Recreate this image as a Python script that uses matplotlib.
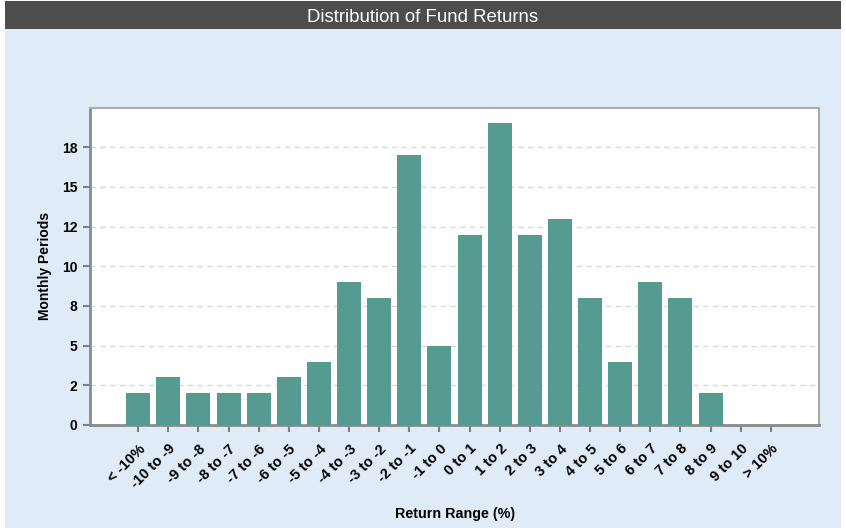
import matplotlib
matplotlib.use("Agg")
import matplotlib.pyplot as plt
from matplotlib.patches import Rectangle
from matplotlib.ticker import FuncFormatter
from matplotlib.transforms import ScaledTranslation

categories = ["< -10%", "-10 to -9", "-9 to -8", "-8 to -7", "-7 to -6", "-6 to -5",
              "-5 to -4", "-4 to -3", "-3 to -2", "-2 to -1", "-1 to 0", "0 to 1",
              "1 to 2", "2 to 3", "3 to 4", "4 to 5", "5 to 6", "6 to 7", "7 to 8",
              "8 to 9", "9 to 10", "> 10%"]
values = [2, 3, 2, 2, 2, 3, 4, 9, 8, 17, 5, 12, 19, 12, 13, 8, 4, 9, 8, 2, 0, 0]
yticks = [0, 2.5, 5, 7.5, 10, 12.5, 15, 17.5]

plt.rcParams['font.family'] = ['Liberation Sans', 'DejaVu Sans']

W, H = 846, 528
fig = plt.figure(figsize=(W / 100, H / 100), dpi=100, facecolor='white')

# background panel
fig.patches.append(Rectangle((5 / W, 0), (841 - 5) / W, (H - 1) / H,
                             transform=fig.transFigure, facecolor='#dfebf7',
                             edgecolor='none', zorder=0))
# title bar
fig.patches.append(Rectangle((5 / W, (H - 29) / H), (841 - 5) / W, 28 / H,
                             transform=fig.transFigure, facecolor='#4d4d4d',
                             edgecolor='none', zorder=1))
fig.text(423 / W, (H - 18) / H, "Distribution of Fund Returns", color='white',
         fontsize=13.4, ha='center', va='center', zorder=2)

ax = fig.add_axes([90 / W, (H - 425) / H, (819 - 90) / W, (425 - 107.5) / H])
ax.set_zorder(5)
ax.set_facecolor('white')
x = list(range(len(categories)))
ax.bar(x, values, width=0.8, color='#559b92', zorder=3)
ax.set_xlim(-1.6, len(categories) + 0.6)
ax.set_ylim(0, 20)
ax.set_yticks(yticks)
ax.yaxis.set_major_formatter(FuncFormatter(lambda v, p: f"{round(v)}"))
ax.grid(axis='y', color='#d9d9d9', linestyle=(0, (4, 3)), linewidth=1, zorder=1)
ax.set_xticks(x)
ax.set_xticklabels(categories, rotation=45, ha='right', va='top',
                   rotation_mode='anchor', fontsize=10.5, fontweight='bold')
shift = ScaledTranslation(6 / 100, 0, fig.dpi_scale_trans)
for lbl in ax.get_xticklabels():
    lbl.set_transform(lbl.get_transform() + shift)
for lbl in ax.get_yticklabels():
    lbl.set_fontweight('bold')
    lbl.set_fontsize(10)
ax.tick_params(axis='x', length=5, width=1.5, color='#808080', pad=7)
ax.tick_params(axis='y', length=5, width=1.5, color='#808080', pad=4)
for s in ['left', 'bottom']:
    ax.spines[s].set_color('#8a8a8a')
    ax.spines[s].set_linewidth(2)
for s in ['top', 'right']:
    ax.spines[s].set_color('#ababab')
    ax.spines[s].set_linewidth(1.5)

ax.set_ylabel("Monthly Periods", fontsize=10, fontweight='bold', labelpad=7)
fig.text(455 / W, (H - 514) / H, "Return Range (%)", fontsize=10.3,
         fontweight='bold', ha='center', va='center', zorder=2)

fig.savefig("out.png", dpi=100, facecolor='white')
